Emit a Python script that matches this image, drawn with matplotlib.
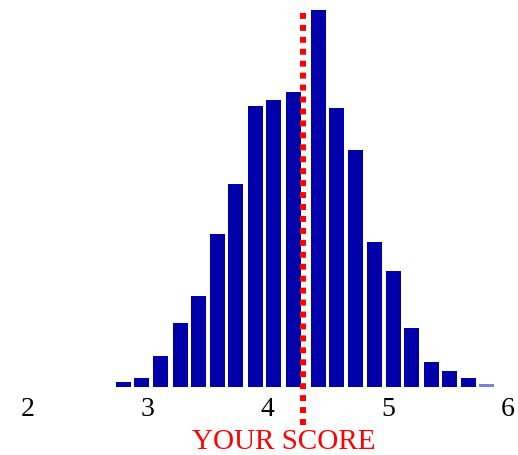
import matplotlib
matplotlib.use("Agg")
import matplotlib.pyplot as plt

# Data: histogram bin centers and heights (relative frequency, arbitrary units)
bin_centers = [2.80, 2.95, 3.11, 3.27, 3.42, 3.58, 3.73, 3.90, 4.05, 4.21,
               4.42, 4.57, 4.73, 4.89, 5.05, 5.20, 5.36, 5.51, 5.67, 5.82]
heights = [5, 9, 31, 64, 91, 153, 203, 281, 287, 295,
           377, 279, 237, 145, 116, 59, 25, 16, 9, 3]
tick_values = [2, 3, 4, 5, 6]
tick_labels = ["2", "3", "4", "5", "6"]
your_score = 4.29
score_label = "YOUR SCORE"

W, H = 518, 455
fig = plt.figure(figsize=(W / 100, H / 100), dpi=100)
base_px = 387
ax = fig.add_axes([0, (H - base_px) / H, 1, base_px / H])

bars = ax.bar(bin_centers, heights, width=0.125, color="#0000AA", edgecolor="none")
bars[-1].set_alpha(0.5)

# score line (dotted red), extends below axis
ax.vlines(your_score, -38, 377, colors="#FF0000", linewidth=4.3,
          linestyles=(0, (1, 1)), clip_on=False, zorder=3, capstyle="butt")

ax.set_xlim(1.770, 6.083)
ax.set_ylim(0, base_px)
ax.set_xticks(tick_values)
ax.set_xticklabels(tick_labels, fontfamily="Liberation Serif", fontsize=20)
ax.tick_params(axis="x", length=0, pad=7)
ax.set_yticks([])
for s in ax.spines.values():
    s.set_visible(False)
ax.patch.set_alpha(0)

fig.text(283.5 / W, 1 - 442 / H, score_label, color="#FF0000",
         fontfamily="Liberation Serif", fontsize=21, ha="center", va="center")

fig.savefig("out.png", dpi=100)
